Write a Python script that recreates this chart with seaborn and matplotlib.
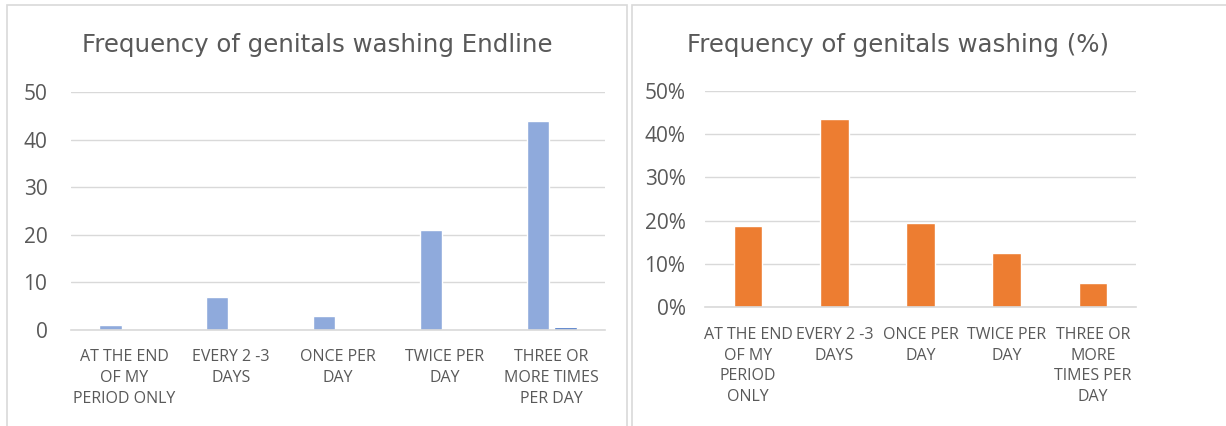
import pandas as pd
import matplotlib.pyplot as plt
import seaborn as sns
from matplotlib.patches import Rectangle
from matplotlib.ticker import PercentFormatter

categories = [
    "AT THE END\nOF MY\nPERIOD ONLY",
    "EVERY 2 -3\nDAYS",
    "ONCE PER\nDAY",
    "TWICE PER\nDAY",
    "THREE OR\nMORE TIMES\nPER DAY",
]
categories_right = [
    "AT THE END\nOF MY\nPERIOD\nONLY",
    "EVERY 2 -3\nDAYS",
    "ONCE PER\nDAY",
    "TWICE PER\nDAY",
    "THREE OR\nMORE\nTIMES PER\nDAY",
]
endline_count = [1, 7, 3, 21, 44]
endline_share = [0.01, 0.09, 0.04, 0.28, 0.58]
pct_values = [0.188, 0.435, 0.195, 0.125, 0.057]

sns.set_theme(style="white")
plt.rcParams["font.family"] = ["Open Sans", "DejaVu Sans"]

df_left = pd.DataFrame({
    "cat": categories * 2,
    "value": endline_count + endline_share,
    "series": ["count"] * 5 + ["share"] * 5,
})
df_right = pd.DataFrame({"cat": categories_right, "value": pct_values})

fig = plt.figure(figsize=(12.26, 4.26), dpi=100)

# panel frames
fig.patches.append(Rectangle((7 / 1226, -0.01), 620 / 1226, 1 - 5 / 426 + 0.01,
                             transform=fig.transFigure, fill=False,
                             edgecolor="#d9d9d9", lw=1.2))
fig.patches.append(Rectangle((632 / 1226, -0.01), 600 / 1226, 1 - 5 / 426 + 0.01,
                             transform=fig.transFigure, fill=False,
                             edgecolor="#d9d9d9", lw=1.2))

txt = "#595959"

ax1 = fig.add_axes([71 / 1226, 1 - 330 / 426, 534 / 1226, 238 / 426])
sns.barplot(data=df_left, x="cat", y="value", hue="series",
            palette=["#8faadc", "#4472c4"], saturation=1, width=0.52, gap=0.2,
            legend=False, ax=ax1)
ax1.set_ylim(0, 50)
ax1.set_yticks(range(0, 51, 10))

ax2 = fig.add_axes([705 / 1226, 1 - 307.3 / 426, 431 / 1226, 216.6 / 426])
sns.barplot(data=df_right, x="cat", y="value", color="#ed7d31",
            saturation=1, width=0.33, ax=ax2)
ax2.set_ylim(0, 0.5)
ax2.set_yticks([0, 0.1, 0.2, 0.3, 0.4, 0.5])
ax2.yaxis.set_major_formatter(PercentFormatter(1.0, decimals=0))

for ax, ypad in ((ax1, 17), (ax2, 14)):
    ax.set_xlabel("")
    ax.set_ylabel("")
    for s in ["top", "right", "left"]:
        ax.spines[s].set_visible(False)
    ax.spines["bottom"].set_color("#d9d9d9")
    ax.spines["bottom"].set_linewidth(1.2)
    ax.yaxis.grid(True, color="#d9d9d9", lw=1)
    ax.set_axisbelow(True)
    ax.tick_params(axis="y", labelsize=15, colors=txt, length=0, pad=ypad)
    ax.tick_params(axis="x", labelsize=11.5, colors=txt, length=0, pad=14)
    for lab in ax.get_xticklabels():
        lab.set_linespacing(1.4)

fig.text(317 / 1226, 1 - 45 / 426, "Frequency of genitals washing Endline",
         ha="center", va="center", fontsize=17.6, color=txt, family="DejaVu Sans")
fig.text(898 / 1226, 1 - 45 / 426, "Frequency of genitals washing (%)",
         ha="center", va="center", fontsize=17.6, color=txt, family="DejaVu Sans")

fig.savefig("out.png", dpi=100)
